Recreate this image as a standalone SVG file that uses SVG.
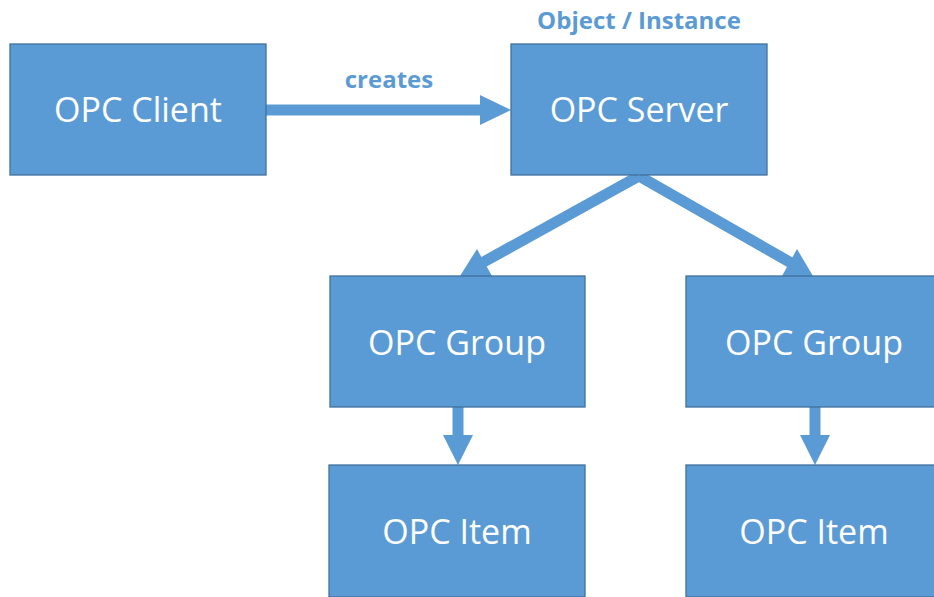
<svg xmlns="http://www.w3.org/2000/svg" width="934" height="597" viewBox="0 0 934 597">
<defs>
<style>
.box{fill:#5B9BD5;stroke:#41719C;stroke-width:1.3}
.t{fill:#fff;font-family:"Open Sans","Liberation Sans",sans-serif;font-size:34px;text-anchor:middle;dominant-baseline:central}
.lbl{fill:#5B9BD5;font-family:"Open Sans","Liberation Sans",sans-serif;font-weight:bold;font-size:24px;text-anchor:middle}
.ln{stroke:#5B9BD5;stroke-width:11;fill:none}
.hd{fill:#5B9BD5}
</style>
</defs>
<rect width="934" height="597" fill="#fff"/>
<g id="edges">
<line class="ln" x1="266" y1="110" x2="482" y2="110"/>
<polygon class="hd" points="480,95 511,110 480,125"/>
<line class="ln" x1="639" y1="176" x2="480" y2="264"/>
<polygon class="hd" points="460,276 477,249 492,276"/>
<line class="ln" x1="639" y1="176" x2="793" y2="264"/>
<polygon class="hd" points="813,276 797,249 782,276"/>
<line class="ln" x1="458" y1="407" x2="458" y2="437"/>
<polygon class="hd" points="443,435 473,435 458,465"/>
<line class="ln" x1="815" y1="407" x2="815" y2="437"/>
<polygon class="hd" points="800,435 830,435 815,465"/>
</g>
<text class="lbl" x="389" y="88">creates</text>
<text class="lbl" x="639" y="29">Object / Instance</text>
<g id="client"><rect class="box" x="10" y="44" width="256" height="131"/><text class="t" x="138" y="109">OPC Client</text></g>
<g id="server"><rect class="box" x="511" y="44" width="256" height="131"/><text class="t" x="639" y="109">OPC Server</text></g>
<g id="group1"><rect class="box" x="330" y="276" width="255" height="131"/><text class="t" x="457" y="342">OPC Group</text></g>
<g id="group2"><rect class="box" x="686" y="276" width="256" height="131"/><text class="t" x="814" y="342">OPC Group</text></g>
<g id="item1"><rect class="box" x="329" y="465" width="256" height="132"/><text class="t" x="457" y="531">OPC Item</text></g>
<g id="item2"><rect class="box" x="686" y="465" width="256" height="132"/><text class="t" x="814" y="531">OPC Item</text></g>
</svg>
